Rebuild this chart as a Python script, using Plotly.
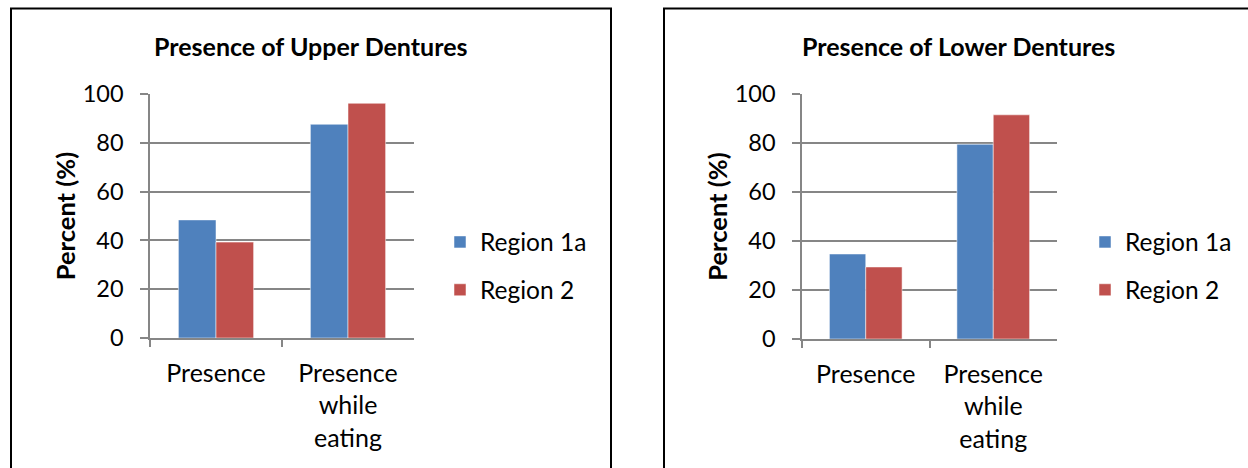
import plotly.graph_objects as go

# Survey results: share of respondents with dentures, by region
categories = ["Presence", "Presence while eating"]
tick_labels = ["Presence", "Presence<br>while<br>eating"]
series_names = ["Region 1a", "Region 2"]

upper_region_1a = [48.4, 87.6]
upper_region_2 = [39.3, 96.2]
lower_region_1a = [34.7, 79.5]
lower_region_2 = [29.4, 91.5]

titles = ["Presence of Upper Dentures", "Presence of Lower Dentures"]
y_title = "Percent (%)"

BLUE = "#4F81BD"
RED = "#C0504D"
GRID = "#868686"
FONT = "Lato"
W, H = 1248, 468

def px_x(p):
    return p / W

def px_y(p):
    return 1 - p / H

fig = go.Figure()

panels = [
    dict(xa="x", ya="y", leg="legend", vals=(upper_region_1a, upper_region_2)),
    dict(xa="x2", ya="y2", leg="legend2", vals=(lower_region_1a, lower_region_2)),
]
for i, p in enumerate(panels):
    for name, vals, col in zip(series_names, p["vals"], [BLUE, RED]):
        fig.add_trace(go.Bar(
            x=categories, y=vals, name=name, xaxis=p["xa"], yaxis=p["ya"],
            marker=dict(color=col, line=dict(color="rgba(255,255,255,0.5)", width=1)),
            legend=p["leg"], legendgroup=f"{i}-{name}",
        ))

# plot-area boxes in pixels: (left, right, top, bottom)
areas = [(150, 414, 94, 338), (802, 1057, 94, 339)]

axis_common = dict(showline=True, linecolor=GRID, linewidth=1.5, automargin=False)
for i, (l, r, t, b) in enumerate(areas):
    sfx = "" if i == 0 else str(i + 1)
    fig.update_layout(**{
        f"xaxis{sfx}": dict(
            domain=[px_x(l), px_x(r)], anchor=f"y{sfx}",
            tickmode="array", tickvals=categories, ticktext=tick_labels,
            ticks="outside", ticklen=7, tickcolor=GRID, tickwidth=1.5,
            tickson="boundaries", ticklabelstandoff=12,
            tickfont=dict(family=FONT, size=25, color="black"),
            showgrid=False, **axis_common,
        ),
        f"yaxis{sfx}": dict(
            domain=[px_y(b), px_y(t)], anchor=f"x{sfx}",
            range=[0, 100], tick0=0, dtick=20,
            ticks="outside", ticklen=8, tickcolor=GRID, tickwidth=1.5,
            ticklabelstandoff=12,
            tickfont=dict(family=FONT, size=23.5, color="black"),
            showgrid=True, gridcolor=GRID, gridwidth=1.5, zeroline=False,
            title=dict(text=y_title, font=dict(family=FONT, size=25.5, color="black", weight="bold"),
                       standoff=0),
            **axis_common,
        ),
    })

legend_common = dict(
    xanchor="left", yanchor="middle", bgcolor="rgba(0,0,0,0)",
    font=dict(family=FONT, size=24.5, color="black"),
    tracegroupgap=13, traceorder="grouped", itemwidth=30,
)
fig.update_layout(
    legend=dict(x=px_x(440), y=px_y(266), **legend_common),
    legend2=dict(x=px_x(1085), y=px_y(266), **legend_common),
)

# chart titles and panel frames
for (cx, text) in [(311, titles[0]), (958, titles[1])]:
    fig.add_annotation(
        x=px_x(cx), y=px_y(46), xref="paper", yref="paper", text=f"<b>{text}</b>",
        showarrow=False, font=dict(family=FONT, size=25, color="black"),
        xanchor="center", yanchor="middle",
    )
for (x0, x1) in [(11, 611), (664, 1260)]:
    fig.add_shape(type="rect", xref="paper", yref="paper",
                  x0=px_x(x0), x1=px_x(x1), y0=px_y(480), y1=px_y(8.5),
                  line=dict(color="black", width=2))

fig.update_layout(
    width=W, height=H, margin=dict(l=0, r=0, t=0, b=0, autoexpand=False),
    paper_bgcolor="white", plot_bgcolor="white",
    barmode="group", bargap=0.43, bargroupgap=0,
    showlegend=True,
)

fig.write_html("out.html")
